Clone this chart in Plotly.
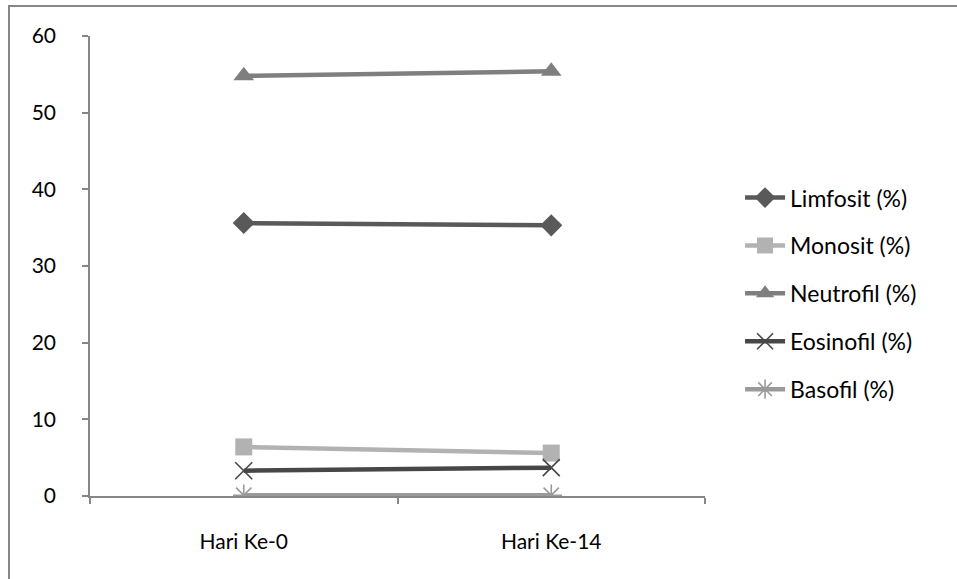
import plotly.graph_objects as go

categories = ["Hari Ke-0", "Hari Ke-14"]
limfosit = [35.6, 35.3]
monosit = [6.4, 5.6]
neutrofil = [54.8, 55.4]
eosinofil = [3.3, 3.7]
basofil = [0.1, 0.1]

series = [
    ("Limfosit (%)", limfosit, "#595959", dict(symbol="diamond", size=17)),
    ("Monosit (%)", monosit, "#b2b2b2", dict(symbol="square", size=17)),
    ("Neutrofil (%)", neutrofil, "#7f7f7f", dict(symbol="triangle-up", size=18)),
    ("Eosinofil (%)", eosinofil, "#474747", dict(symbol="x-thin-open", size=17, line=dict(width=1.6, color="#474747"))),
    ("Basofil (%)", basofil, "#9a9a9a", dict(symbol="asterisk-open", size=18, line=dict(width=1.6, color="#9a9a9a"))),
]

fig = go.Figure()
for i, (name, vals, color, mk) in enumerate(series):
    marker = dict(color=color, **mk)
    fig.add_trace(go.Scatter(
        x=categories, y=vals, name=name, mode="lines+markers",
        line=dict(color=color, width=4.5), marker=marker,
        legendgroup=f"g{i}",
    ))

fig.update_layout(
    width=957, height=579,
    margin=dict(l=90, r=252, t=36, b=83),
    paper_bgcolor="white", plot_bgcolor="white",
    font=dict(family="Lato, 'Open Sans', sans-serif", size=21, color="#000000"),
    showlegend=True,
    legend=dict(x=1.057, y=0.44, xanchor="left", yanchor="middle",
                font=dict(size=23), tracegroupgap=15, itemwidth=40,
                bgcolor="rgba(0,0,0,0)"),
    xaxis=dict(type="category", range=[-0.5, 1.5], showgrid=False,
               showline=True, linecolor="#868686", linewidth=1.5,
               ticks="outside", tickson="boundaries", ticklen=6,
               tickcolor="#868686", tickwidth=1.5, tickfont=dict(size=21),
               ticklabelstandoff=26),
    yaxis=dict(range=[0, 60], dtick=10, showgrid=False, zeroline=False,
               showline=True, linecolor="#868686", linewidth=1.5,
               ticks="outside", ticklen=6, tickcolor="#868686", tickwidth=1.5,
               tickfont=dict(size=21), ticklabelstandoff=22),
    shapes=[dict(type="rect", xref="paper", yref="paper",
                 x0=-0.1317, y0=-0.6, x1=1.6, y1=1.0652,
                 line=dict(color="#868686", width=2), layer="below")],
)

fig.write_html("out.html")
